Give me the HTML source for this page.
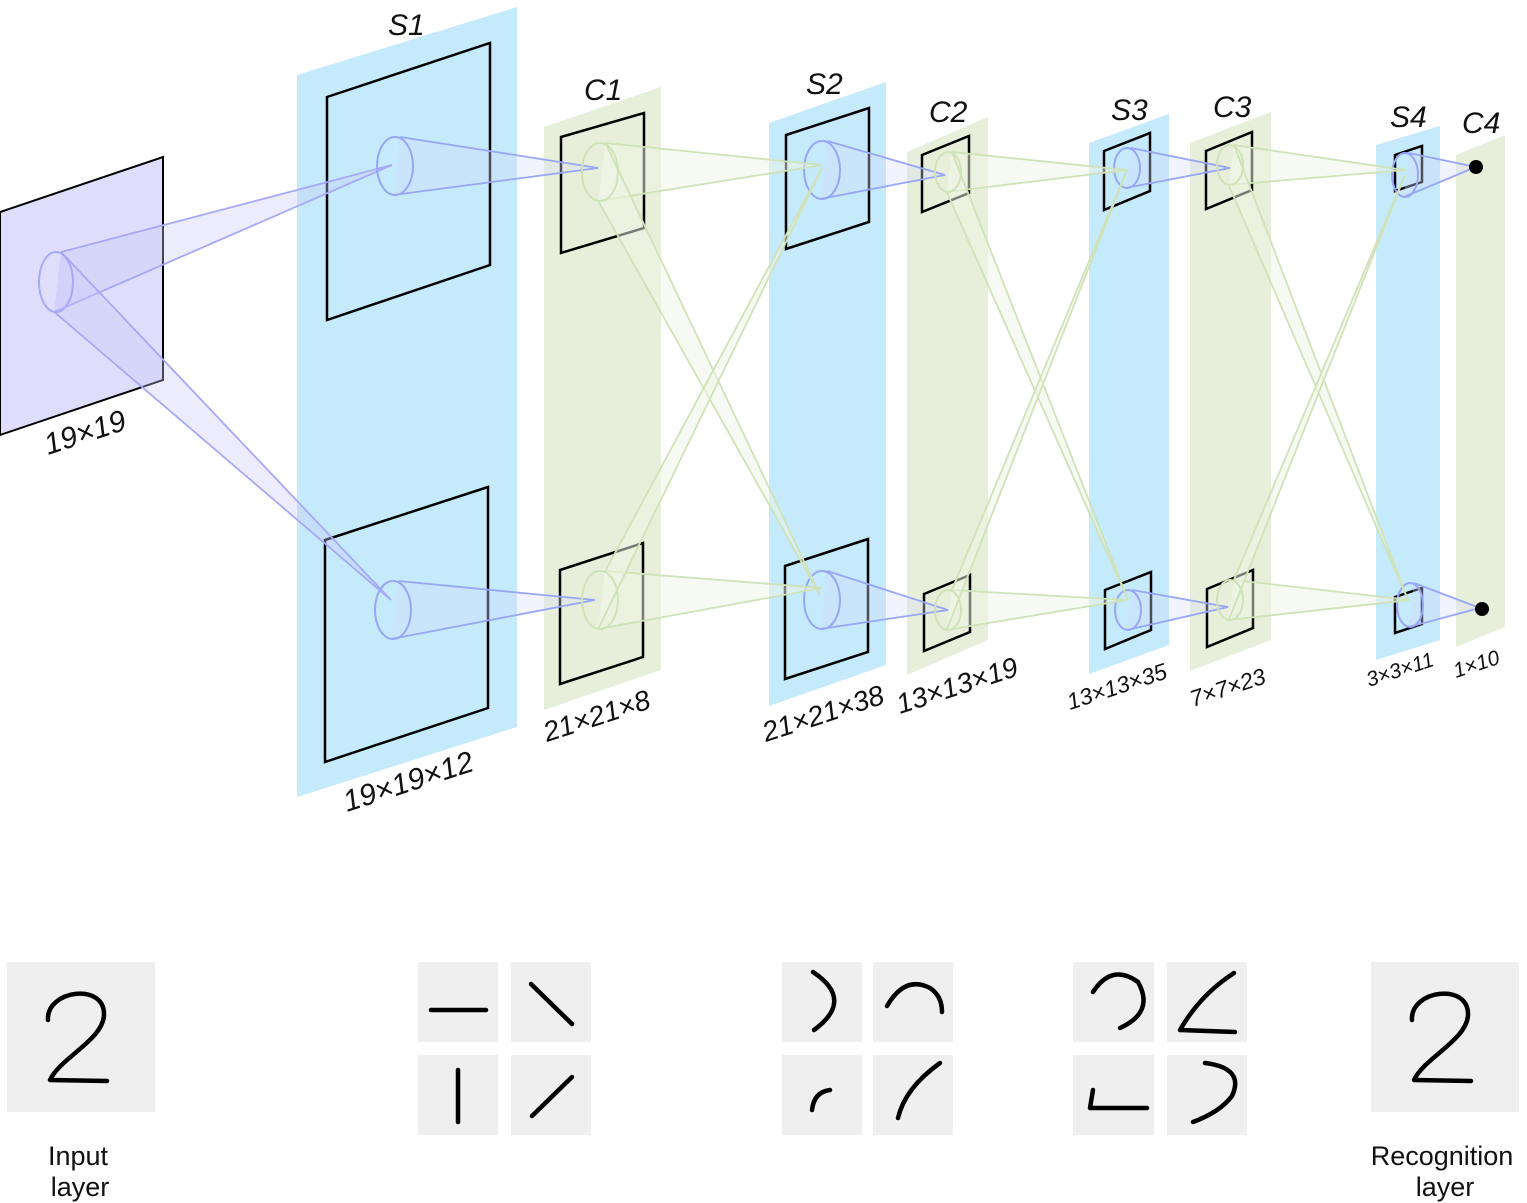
<!DOCTYPE html>
<html><head><meta charset="utf-8"><style>
html,body{margin:0;padding:0;background:#fff;}
svg{display:block;}
text{font-family:"Liberation Sans",sans-serif;}
.it{font-style:italic;fill:#111;}
</style></head><body>
<svg id="d" width="1527" height="1203" viewBox="0 0 1527 1203">
<g id="panels">
<polygon points="0,212 163,157 163,380 0,435" fill="#dedefc" stroke="#000" stroke-width="2"/>
<polygon points="297,75 517,7 517,727 297,797" fill="#c4eafb"/>
<polygon points="544,127 661,87 661,670 544,710" fill="#e7efdb"/>
<polygon points="769,123 886,82 886,665 769,706" fill="#c4eafb"/>
<polygon points="907,152 988,117 988,640 907,675" fill="#e7efdb"/>
<polygon points="1089,143 1169,114 1169,645 1089,674" fill="#c4eafb"/>
<polygon points="1190,143 1271,112 1271,640 1190,671" fill="#e7efdb"/>
<polygon points="1376,145 1440,126 1440,640 1376,660" fill="#c4eafb"/>
<polygon points="1456,155 1505,135 1505,627 1456,647" fill="#e7efdb"/>
</g>
<g id="squares" fill="none" stroke="#000" stroke-width="2.5">
<polygon points="327,97 490,43 490,265 327,320"/>
<polygon points="325,540 488,487 488,708 325,762"/>
<polygon points="561,137 644,113 644,228 561,253"/>
<polygon points="560,570 643,543 643,657 560,684"/>
<polygon points="786,135 869,108 869,222 786,249"/>
<polygon points="785,566 868,539 868,652 785,679"/>
<polygon points="922,155 969,136 969,193 922,212"/>
<polygon points="924,594 970,575 970,632 924,651"/>
<polygon points="1104,151 1150,133 1150,191 1104,210"/>
<polygon points="1105,590 1151,572 1151,630 1105,649"/>
<polygon points="1206,151 1252,132 1252,190 1206,209"/>
<polygon points="1207,589 1253,570 1253,628 1207,647"/>
<polygon points="1395,155 1422,146 1422,182 1395,191"/>
<polygon points="1395,597 1422,588 1422,624 1395,633"/>
</g>
<g id="cones"></g>
<circle cx="1476" cy="167" r="7" fill="#000"/>
<circle cx="1482" cy="609" r="7" fill="#000"/>
<g class="it" font-size="30">
<text x="388" y="35">S1</text>
<text x="584" y="100">C1</text>
<text x="806" y="94">S2</text>
<text x="929" y="122">C2</text>
<text x="1111" y="120">S3</text>
<text x="1213" y="117">C3</text>
<text x="1390" y="127">S4</text>
<text x="1462" y="133">C4</text>
</g>
<g class="it">
<text font-size="30" transform="translate(48,455) rotate(-18)">19×19</text>
<text font-size="30" transform="translate(347,812) rotate(-18)">19×19×12</text>
<text font-size="28" transform="translate(547,742) rotate(-18)">21×21×8</text>
<text font-size="28" transform="translate(766,742) rotate(-18)">21×21×38</text>
<text font-size="28" transform="translate(900,714) rotate(-18)">13×13×19</text>
<text font-size="23" transform="translate(1070,710) rotate(-18)">13×13×35</text>
<text font-size="23" transform="translate(1193,707) rotate(-18)">7×7×23</text>
<text font-size="21" transform="translate(1369,687) rotate(-18)">3×3×11</text>
<text font-size="21" transform="translate(1456,678) rotate(-18)">1×10</text>
</g>
<g fill="#efefef">
<rect x="7" y="962" width="148" height="150"/>
<rect x="418" y="962" width="80" height="80"/>
<rect x="511" y="962" width="80" height="80"/>
<rect x="418" y="1055" width="80" height="80"/>
<rect x="511" y="1055" width="80" height="80"/>
<rect x="782" y="962" width="80" height="80"/>
<rect x="873" y="962" width="80" height="80"/>
<rect x="782" y="1055" width="80" height="80"/>
<rect x="873" y="1055" width="80" height="80"/>
<rect x="1073" y="962" width="81" height="80"/>
<rect x="1167" y="962" width="80" height="80"/>
<rect x="1073" y="1055" width="81" height="80"/>
<rect x="1167" y="1055" width="80" height="80"/>
<rect x="1371" y="962" width="148" height="150"/>
</g>
<g fill="none" stroke="#000" stroke-width="4.5" stroke-linecap="round" stroke-linejoin="round">
<path d="M48,1020 C46,990 105,982 104,1015 C103,1040 60,1058 50,1080 L107,1081"/>
<path d="M1412,1020 C1410,990 1469,982 1468,1015 C1467,1040 1424,1058 1414,1080 L1471,1081"/>
<path d="M431,1010 L486,1010"/>
<path d="M531,984 L572,1024"/>
<path d="M458,1070 L458,1122"/>
<path d="M532,1116 L572,1077"/>
<path d="M813,972 Q855,1000 814,1030"/>
<path d="M887,1006 Q905,975 930,988 Q942,996 942,1012"/>
<path d="M812,1110 Q814,1092 830,1090"/>
<path d="M898,1118 Q905,1088 940,1063"/>
<path d="M1093,992 Q1112,963 1138,982 Q1155,1012 1120,1028"/>
<path d="M1234,973 Q1200,995 1180,1030 L1235,1032"/>
<path d="M1093,1090 L1090,1108 L1147,1108"/>
<path d="M1205,1063 Q1245,1068 1232,1096 Q1220,1112 1193,1122"/>
</g>
<g font-size="27" fill="#111" text-anchor="middle">
<text x="78" y="1165">Input</text>
<text x="80" y="1196">layer</text>
<text x="1442" y="1165">Recognition</text>
<text x="1445" y="1196">layer</text>
</g>
</svg>
<script>
const NS="http://www.w3.org/2000/svg";
const coneStyles={purple:["#a8a8f8","rgba(200,200,250,0.35)"],blue:["#98a6f6","rgba(215,222,252,0.35)"],green:["#cfe2b8","rgba(240,246,230,0.5)"]};
const coneCenters=[[56,282,17,30],[395,166,18,29],[393,610,18,29],[822,170,18,29],[822,600,18,29],[1127,168,13,20],[1128,610,13,20],[1405,175,13,22],[1410,605,13,22],[600,172,18,29],[600,600,18,29],[948,172,13,20],[948,610,13,20],[1230,165,13,20],[1230,600,13,20]];
const coneTypes=["purple","blue","blue","blue","blue","blue","blue","blue","blue","green","green","green","green","green","green"];
const coneApexes=[[[392,165],[391,600]],[[598,168]],[[595,600]],[[945,175]],[[948,610]],[[1230,168]],[[1228,607]],[[1476,167]],[[1480,608]],[[822,165],[820,595]],[[822,588],[822,168]],[[1127,170],[1128,600]],[[1127,600],[1127,170]],[[1405,170],[1408,600]],[[1410,600],[1405,175]]];
const g=document.getElementById("cones");
coneCenters.forEach((c,i)=>{
  const [cx,cy,rx,ry]=c; const [st,fl]=coneStyles[coneTypes[i]];
  const tx=cx+rx*0.3, ty=cy-ry, bx=cx-rx*0.1, by=cy+ry;
  coneApexes[i].forEach(a=>{
    const p=document.createElementNS(NS,"polygon");
    p.setAttribute("points",`${tx},${ty} ${bx},${by} ${a[0]},${a[1]}`);
    p.setAttribute("fill",fl);p.setAttribute("stroke","none");
    
    
    g.appendChild(p);
    const l=document.createElementNS(NS,"path");
    l.setAttribute("d",`M${tx},${ty} L${a[0]},${a[1]} L${bx},${by}`);
    l.setAttribute("fill","none");l.setAttribute("stroke",st);l.setAttribute("stroke-width","1.8");
    
    
    g.appendChild(l);
  });
  const e=document.createElementNS(NS,"ellipse");
  e.setAttribute("cx",cx);e.setAttribute("cy",cy);e.setAttribute("rx",rx);e.setAttribute("ry",ry);
  e.setAttribute("fill","none");e.setAttribute("stroke",st);e.setAttribute("stroke-width","2");
  
  
  g.appendChild(e);
});
</script>
</body></html>
